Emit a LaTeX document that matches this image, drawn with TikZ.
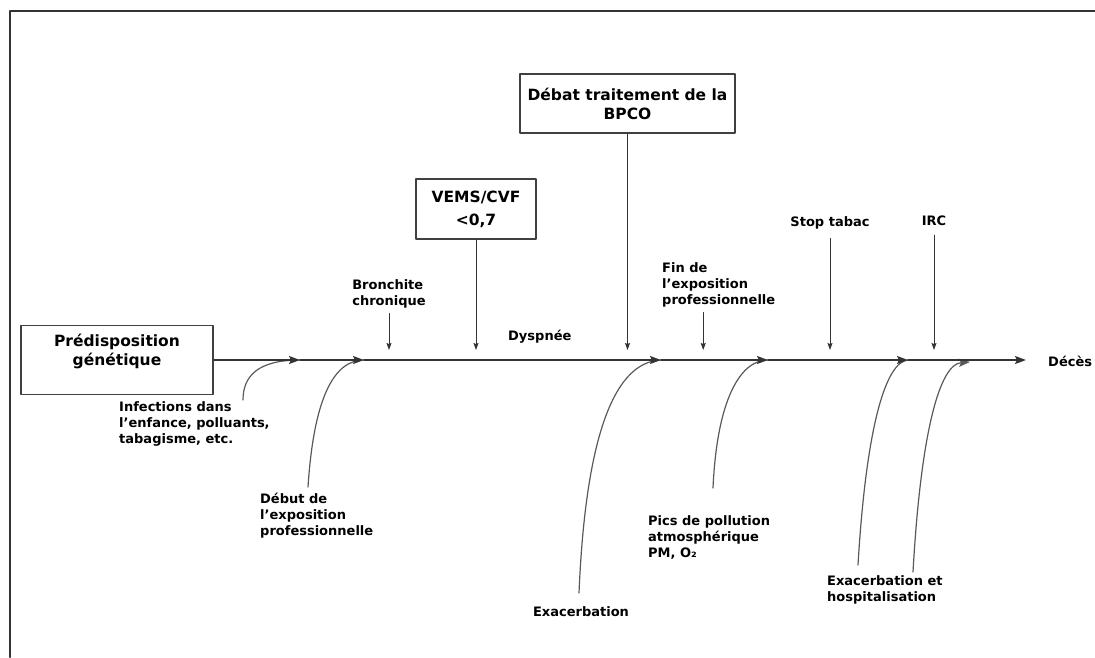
\documentclass[tikz,border=0pt]{standalone}
\usepackage{fontspec}
\setmainfont{DejaVu Sans}
\usetikzlibrary{arrows.meta}

\begin{document}
\begin{tikzpicture}[x=1pt, y=-1pt, font=\bfseries\fontsize{13}{16}\selectfont, line join=round, line cap=round, >={Stealth[length=11pt,width=8pt,inset=2pt]}]
	\tikzset{every node/.style={inner sep=1pt},
		box/.style={draw=black!75, line width=1.3pt, inner sep=0pt},
		boxtext/.style={font=\bfseries\fontsize{15.5}{19}\selectfont, align=center},
		lbl/.style={align=left, anchor=west},
		axis/.style={draw=black!80, line width=1.4pt},
		feed/.style={draw=black!65, line width=1.2pt},
		tick/.style={draw=black!80, line width=1pt, -{Stealth[length=7pt,width=5pt,inset=1pt]}}}
	\def \ytl{350}
	\def \yax{360}
	\useasboundingbox (0,0) rectangle (1095,657);
	% cadre
	\draw[line width=2.2pt, black!80] (10,657) -- (10,11) -- (1095,11);
	% cases
	\node[box, minimum width=192pt, minimum height=69pt] (pred) at (117,\yax) {};
	\node[boxtext] (predtxt) at (117,351) {Prédisposition\\génétique};
	\node[box, boxtext, minimum width=120pt, minimum height=60pt] (vems) at (476,209) {VEMS/CVF\\[4pt]<0,7};
	\node[box, boxtext, minimum width=215pt, minimum height=59pt] (debat) at (627.5,103.5) {Débat traitement de la\\BPCO};
	% textes
	\node[lbl] (infect) at (118,424) {Infections dans\\l’enfance, polluants,\\tabagisme, etc.};
	\node[lbl] (debut) at (259,516) {Début de\\l’exposition\\professionnelle};
	\node[align=left] (bronch) at (389,294) {Bronchite\\chronique};
	\node[lbl] (dysp) at (507,337) {Dyspnée};
	\node[lbl] (finexpo) at (661,285) {Fin de\\l’exposition\\professionnelle};
	\node (stop) at (830,223) {Stop tabac};
	\node (irc) at (934,221) {IRC};
	\node[lbl] (deces) at (1047,361) {Décès};
	\node (exac) at (581,612) {Exacerbation};
	\node[lbl] (pics) at (647,537) {Pics de pollution\\atmosphérique\\PM, O₂};
	\node[lbl] (exhosp) at (826,590) {Exacerbation et\\hospitalisation};
	% points de l'axe
	\coordinate (tl) at (0,\ytl);
	\coordinate (j1) at (300,\yax);
	\coordinate (j2) at (364,\yax);
	\coordinate (j3) at (661,\yax);
	\coordinate (j4) at (768,\yax);
	\coordinate (j5) at (908,\yax);
	\coordinate (j6) at (970,362);
	\coordinate (end) at (1026,\yax);
	% origines des courbes
	\coordinate (o1) at (243,400);
	\coordinate (o2) at (308,487);
	\coordinate (o3) at (579,593);
	\coordinate (o4) at (713,488);
	\coordinate (o5) at (858,565);
	\coordinate (o6) at (913,572);
	\draw[feed] (o1) .. controls (243,376) and (258,\yax) .. (j1);
	\draw[feed] (o2) .. controls (314,395) and (335,\yax) .. (j2);
	\draw[feed] (o3) .. controls (585,450) and (610,362) .. (j3);
	\draw[feed] (o4) .. controls (717,400) and (740,\yax) .. (j4);
	\draw[feed] (o5) .. controls (866,430) and (885,362) .. (j5);
	\draw[feed,->] (o6) .. controls (921,430) and (940,364) .. (j6);
	% axe
	\draw[axis,->] (pred.east) -- (j1);
	\draw[axis,->] (j1) -- (j2);
	\draw[axis,->] (j2) -- (j3);
	\draw[axis,->] (j3) -- (j4);
	\draw[axis,->] (j4) -- (j5);
	\draw[axis,->] (j5) -- (end);
	% fleches verticales
	\draw[tick, shorten <=4pt] (bronch.south) -- (bronch.south |- tl);
	\draw[tick] (vems.south) -- (vems.south |- tl);
	\draw[tick] (debat.south) -- (debat.south |- tl);
	\draw[tick, shorten <=4pt] ([xshift=-15.5pt]finexpo.south) -- ([xshift=-15.5pt]finexpo.south |- tl);
	\draw[tick, shorten <=8pt] (stop.south) -- (stop.south |- tl);
	\draw[tick, shorten <=8pt] (irc.south) -- (irc.south |- tl);
\end{tikzpicture}
\end{document}
